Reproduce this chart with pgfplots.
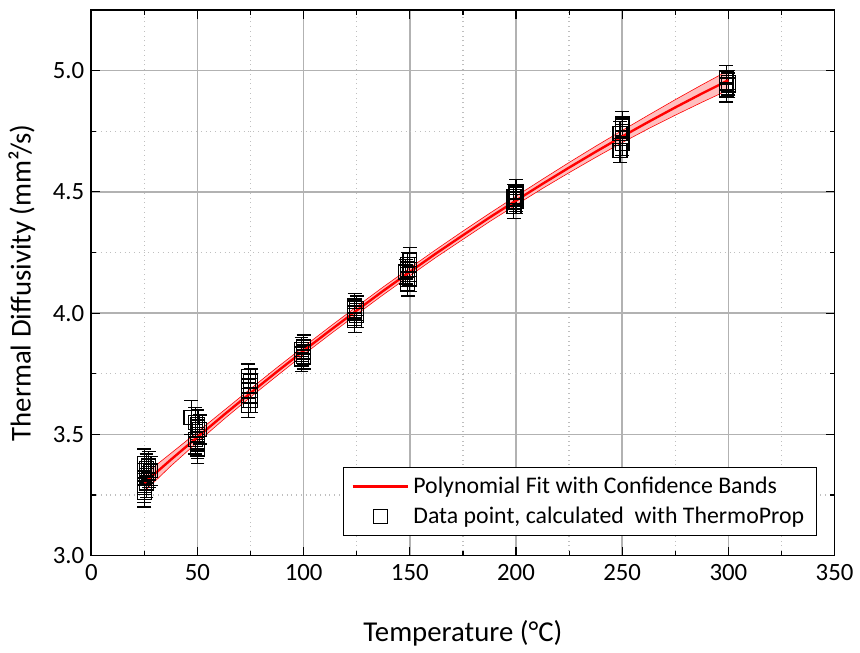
\documentclass[border=0pt]{standalone}
\usepackage{fontspec}
\setmainfont{Carlito}
\usepackage{pgfplots}
\usepackage{pgfplotstable}
\pgfplotsset{compat=1.18}
\usepgfplotslibrary{fillbetween}

% fit with confidence band
\pgfplotstableread{
T     fit    lo     hi
25    3.300  3.265  3.335
37.5  3.396  3.370  3.422
50    3.489  3.468  3.510
62.5  3.581  3.563  3.599
75    3.671  3.654  3.688
87.5  3.759  3.742  3.776
100   3.845  3.829  3.861
112.5 3.929  3.913  3.945
125   4.011  3.995  4.027
137.5 4.092  4.076  4.108
150   4.170  4.154  4.186
162.5 4.247  4.231  4.263
175   4.321  4.304  4.338
187.5 4.394  4.377  4.411
200   4.464  4.446  4.482
212.5 4.533  4.514  4.552
225   4.600  4.579  4.621
237.5 4.665  4.642  4.688
250   4.728  4.703  4.753
262.5 4.789  4.761  4.817
275   4.848  4.816  4.880
287.5 4.905  4.869  4.941
300   4.960  4.920  5.000
}\fitdata

% data points (ThermoProp)
\pgfplotstableread{
T    a     err
25   3.26  0.06
25   3.28  0.06
26   3.30  0.06
25   3.32  0.06
27   3.34  0.06
26   3.36  0.06
27   3.37  0.06
25   3.38  0.06
28   3.35  0.06
47   3.57  0.07
50   3.44  0.06
50   3.46  0.06
49   3.48  0.06
50   3.50  0.06
51   3.52  0.06
50   3.54  0.06
49   3.55  0.06
74   3.62  0.05
75   3.64  0.05
74   3.66  0.05
75   3.68  0.05
74   3.70  0.05
75   3.72  0.05
74   3.74  0.05
99   3.81  0.05
100  3.82  0.05
100  3.84  0.05
99   3.85  0.05
100  3.86  0.05
124  3.97  0.05
125  3.99  0.05
124  4.00  0.05
125  4.02  0.05
124  4.03  0.05
149  4.12  0.05
150  4.14  0.05
149  4.16  0.05
148  4.17  0.05
150  4.18  0.05
149  4.20  0.05
150  4.22  0.05
199  4.44  0.05
200  4.46  0.05
200  4.47  0.05
199  4.48  0.05
200  4.50  0.05
249  4.67  0.05
250  4.70  0.05
250  4.72  0.05
249  4.74  0.05
250  4.75  0.05
250  4.78  0.05
299  4.92  0.05
300  4.94  0.05
300  4.95  0.05
299  4.97  0.05
}\pts

\begin{document}
\begin{tikzpicture}
\begin{axis}[
    scale only axis,
    width=374.5pt,
    height=275pt,
    xmin=0, xmax=350,
    ymin=3.0, ymax=5.25,
    xtick={0,50,...,350},
    ytick={3.0,3.5,4.0,4.5,5.0},
    minor x tick num=1,
    minor y tick num=1,
    yticklabel style={/pgf/number format/fixed,/pgf/number format/fixed zerofill,/pgf/number format/precision=1},
    /pgf/number format/assume math mode=true,
    tick label style={font=\fontsize{12.5}{14}\selectfont},
    xticklabel style={yshift=-1pt},
    label style={font=\fontsize{14.5}{17}\selectfont},
    xlabel={Temperature (°C)},
    ylabel={Thermal Diffusivity (mm²/s)},
    xlabel style={yshift=-13pt},
    ylabel style={yshift=2pt},
    tick align=inside,
    major tick length=4.5pt,
    minor tick length=2.5pt,
    tick style={black, line width=0.6pt},
    axis line style={line width=0.8pt},
    grid=both,
    major grid style={gray!60, line width=0.7pt},
    minor grid style={gray!50, dotted, line width=0.7pt},
    legend cell align=left,
    legend style={at={(0.976,0.036)}, anchor=south east, draw=black, line width=0.6pt,
        font=\fontsize{12}{14}\selectfont, row sep=1.5pt, inner xsep=4pt, inner ysep=2.5pt},
    legend image code/.code={\draw[mark repeat=2,mark phase=2] plot coordinates {(0pt,0pt) (14pt,0pt) (28pt,0pt)};},
    clip=false,
]
\addlegendimage{red, line width=1.2pt}
\addlegendentry{Polynomial Fit with Confidence Bands}
\addlegendimage{black, only marks, mark=square, mark size=3.5pt, mark options={line width=0.6pt}}
\addlegendentry{Data point, calculated\ \ with ThermoProp}
\addplot[name path=hi, red, line width=0.3pt, forget plot] table[x=T, y=hi] {\fitdata};
\addplot[name path=lo, red, line width=0.3pt, forget plot] table[x=T, y=lo] {\fitdata};
\addplot[red!25, forget plot] fill between[of=hi and lo];
\addplot[black, only marks, mark=square, mark size=3.5pt, mark options={line width=0.7pt}, forget plot,
    error bars/.cd, y dir=both, y explicit,
    error bar style={line width=0.6pt},
    error mark options={rotate=90, mark size=3.5pt, line width=0.7pt}]
    table[x=T, y=a, y error=err] {\pts};
\addplot[red, line width=1.2pt, forget plot] table[x=T, y=fit] {\fitdata};
\coordinate (ll) at (rel axis cs:0,0);
\coordinate (ur) at (rel axis cs:1,1);
\end{axis}
\path (ll) ++(-46pt,-42.5pt);
\path (ur) ++(9.5pt,5pt);
\end{tikzpicture}
\end{document}
